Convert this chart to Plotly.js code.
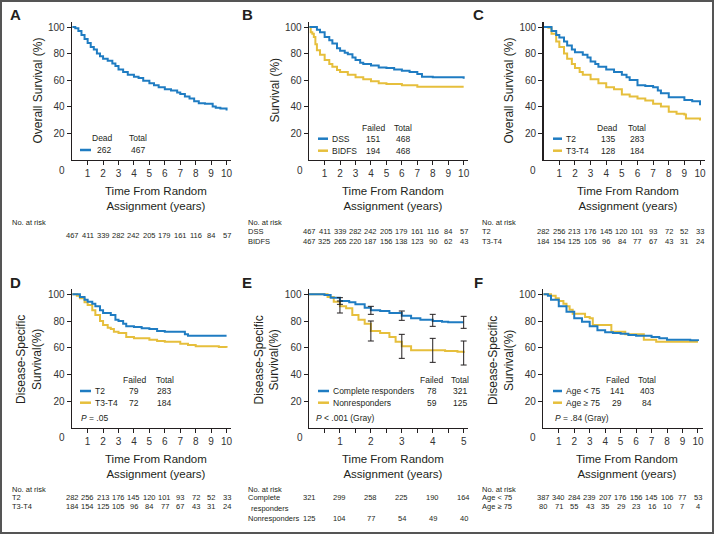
<!DOCTYPE html>
<html><head><meta charset="utf-8">
<script src="https://cdn.plot.ly/plotly-3.0.1.min.js"></script>
<style>html,body{margin:0;padding:0;background:#fff}#c{width:714px;height:534px}</style>
</head><body><div id="c"></div>
<script>
// ---------------- DATA ----------------
const yearsTen = [0,1,2,3,4,5,6,7,8,9,10];
const yearsFive = [0,1,2,3,4,5];
const tickTen = [1,2,3,4,5,6,7,8,9,10];

// Panel A - overall survival
const A_t = [0,0.2,0.4,0.6,0.8,1.0,1.2,1.4,1.6,1.8,2.0,2.3,2.6,2.8,3.0,3.3,3.6,4.0,4.3,4.6,5.0,5.3,5.6,6.0,6.4,6.8,7.0,7.3,7.6,7.9,8.2,8.6,8.9,9.1,9.3,9.6,10.0];
const A_s = [100,99,97,94,91,88,85,83,80,78,76,74.5,72.5,70.5,68,66,64,62.5,61.5,59.5,57.5,56,54.5,53,52,50.5,49.5,47.5,46,44,42.5,42,42,40,39,38.5,37];
const A_risk = [467,411,339,282,242,205,179,161,116,84,57];

// Panel B - DSS / BIDFS
const B_dss_t = [0,0.3,0.5,0.7,1.0,1.3,1.5,1.8,2.0,2.3,2.5,2.8,3.0,3.3,3.5,4.0,4.5,5.0,5.5,6.0,6.5,7.0,7.3,8.0,9.0,9.6,10.0];
const B_dss_s = [100,100,98,96,92.5,90,87.5,84,82,80.5,79.5,77,75,73,72,71,69.5,69,68,67,66,64.5,62.5,62,62,62,61];
const B_bid_t = [0,0.1,0.2,0.3,0.4,0.5,0.7,1.0,1.3,1.5,1.8,2.0,2.5,3.0,3.5,4.0,4.5,5.0,6.0,7.0,8.0,10.0];
const B_bid_s = [100,96,95,92.5,87,82.5,79,75,72,70,67.5,66,64,62,60.5,59,57.5,57,56,55,55,55];
const B_risk_dss = [467,411,339,282,242,205,179,161,116,84,57];
const B_risk_bid = [467,325,265,220,187,156,138,123,90,62,43];

// Panel C - OS by T stage
const C_t2_t = [0,0.3,0.5,0.8,1.0,1.3,1.5,1.8,2.0,2.5,2.8,3.0,3.3,3.5,4.0,4.5,5.0,5.3,5.5,6.0,6.5,7.0,7.3,7.5,8.0,8.5,8.9,9.0,9.5,10.0];
const C_t2_s = [100,100,97,94,92,89,86,83,81,79,77,74,72,70,68,66,64,62,60,56,55.5,54.5,52,50,47,47,47,45,44,41];
const C_t34_t = [0,0.3,0.5,0.8,1.0,1.3,1.5,1.8,2.0,2.3,2.5,3.0,3.5,4.0,4.5,5.0,5.5,6.0,6.5,7.0,7.5,8.0,8.5,9.0,9.1,9.5,10.0];
const C_t34_s = [100,99.5,95,89,85,80,76,72,69,66,64,60.5,57.5,54.5,53,49,47.5,46,44.5,42,40,36,34.5,34,31,31,29.5];
const C_risk_t2 = [282,256,213,176,145,120,101,93,72,52,33];
const C_risk_t34 = [184,154,125,105,96,84,77,67,43,31,24];

// Panel D - DSS by T stage
const D_t2_t = [0,0.3,0.5,0.8,1.0,1.3,1.5,1.8,2.0,2.5,2.8,3.0,3.3,3.5,4.0,4.5,5.0,5.5,6.0,7.0,7.3,7.5,8.0,10.0];
const D_t2_s = [100,100,98,96,94.5,93,91,88,86,84.5,81,80,78,76,75.5,74.5,74,72.5,72,72,70,69,69,69];
const D_t34_t = [0,0.3,0.5,0.8,1.0,1.3,1.5,1.8,2.0,2.3,2.5,2.7,3.0,3.5,4.0,4.5,5.0,5.5,6.0,7.0,7.5,8.0,9.0,9.5,10.0];
const D_t34_s = [100,99,97,94,92,88,84.5,80,77,75,74,72,71,68,67,67,66,65,64.5,63,62,61,61,60.5,60];
const D_risk_t2 = [282,256,213,176,145,120,101,93,72,52,33];
const D_risk_t34 = [184,154,125,105,96,84,77,67,43,31,24];

// Panel E - DSS by response
const E_cr_t = [0,0.4,0.5,0.7,1.0,1.3,1.5,1.8,2.0,2.3,2.6,3.0,3.3,3.6,4.0,4.3,4.5,5.0];
const E_cr_s = [100,100,99.5,97.5,95,94,92.5,90,88,87.5,86,84,82,81,80,79.5,79,79];
const E_nr_t = [0,0.4,0.6,0.8,1.0,1.2,1.4,1.6,1.8,2.0,2.3,2.6,2.8,3.0,3.3,4.0,4.4,4.8,5.0];
const E_nr_s = [100,100,98,94.5,91,89.5,84.5,81,78,72.5,71,68,64.5,61,58,58,57.5,57,56];
const E_err_t = [1,2,3,4,5];
const E_cr_mid = [95,88,84,80.5,79];
const E_cr_err = [2.5,3,3.5,4.5,4.5];
const E_nr_mid = [90.5,72.5,61,58,56];
const E_nr_err = [4.5,7.5,9,9,9];
const E_risk_cr = [321,299,258,225,190,164];
const E_risk_nr = [125,104,77,54,49,40];

// Panel F - DSS by age
const F_lt_t = [0,0.3,0.5,1.0,1.5,2.0,2.5,3.0,3.5,4.0,4.5,5.0,5.5,6.0,7.0,7.5,8.0,9.0,9.5,10.0];
const F_lt_s = [100,99,96,91,87,82,79.5,76,73,71.5,71,70.5,69.5,69,68,67,66,66,65.5,65];
const F_ge_t = [0,0.5,0.8,1.0,1.3,1.5,1.7,1.9,2.7,3.0,3.2,4.4,5.3,6.5,7.3,10.0];
const F_ge_s = [100,99,97,95,93,91,88.5,85.5,83,82,77,72,70,66,64.5,64.5];
const F_risk_lt = [387,340,284,239,207,176,156,145,106,77,53];
const F_risk_ge = [80,71,55,43,35,29,23,16,10,7,4];

// ---------------- STYLE / LAYOUT ----------------
const W = 714, H = 534;
const BLUE = '#1f7cc2', GOLD = '#e6bf3c', INK = '#231f20';
const FONT = 'Liberation Sans, Arial, Helvetica, sans-serif';
const NARROW = 'Liberation Sans Narrow, Arial Narrow, Liberation Sans, Arial, sans-serif';
const X = p => p / W, Y = p => 1 - p / H;

const panels = [
  {k:'', xd:[72.2,231.2], yd:[21.7,159.5], xr:[0,10.3]},
  {k:'2', xd:[309.2,468.3], yd:[21.7,159.5], xr:[0,10.3]},
  {k:'3', xd:[543.7,704.7], yd:[21.7,159.5], xr:[0,10.3]},
  {k:'4', xd:[72.2,231.2], yd:[289,427.7], xr:[0,10.3]},
  {k:'5', xd:[309.0,468.3], yd:[289,427.7], xr:[0,5.15]},
  {k:'6', xd:[543.3,702.6], yd:[289,427.7], xr:[0,10.3]}
];

const layout = {
  width: W, height: H, margin:{l:0,r:0,t:0,b:0},
  paper_bgcolor:'#fff', plot_bgcolor:'rgba(0,0,0,0)',
  showlegend:false, font:{family:FONT, color:INK},
  annotations:[], shapes:[]
};

panels.forEach((p,i) => {
  const xa = {
    domain:[X(p.xd[0]), X(p.xd[1])], range:p.xr, anchor:'y'+p.k,
    showline:true, linecolor:INK, linewidth:1.5, ticks:'outside', ticklen:4, tickwidth:1, tickcolor:INK,
    showgrid:false, zeroline:false, tickfont:{size:10, color:'#333'}, fixedrange:true
  };
  if (i === 4) {
    xa.tickvals = [0.5,1,1.5,2,2.5,3,3.5,4,4.5,5];
    xa.ticktext = ['','1','','2','','3','','4','','5'];
  } else {
    xa.tickvals = tickTen;
  }
  const ya = {
    domain:[Y(p.yd[1]), Y(p.yd[0])], range:[0,104], anchor:'x'+p.k,
    showline:true, linecolor:INK, linewidth:1.5, ticks:'outside', ticklen:4, tickwidth:1, tickcolor:INK,
    showgrid:false, zeroline:false, tickvals:[20,40,60,80,100], tickfont:{size:10, color:'#333'}, fixedrange:true
  };
  layout['xaxis'+p.k] = xa;
  layout['yaxis'+p.k] = ya;
});

function ann(text, x, y, o) {
  layout.annotations.push(Object.assign({
    text:text, x:x, y:y, xref:'paper', yref:'paper', showarrow:false,
    xanchor:'center', yanchor:'middle', font:{size:8.5, color:INK, family:FONT}
  }, o||{}));
}
function lineSample(x0, x1, y, color) {
  layout.shapes.push({type:'line', xref:'paper', yref:'paper', x0:X(x0), x1:X(x1), y0:Y(y), y1:Y(y),
    line:{color:color, width:2.5}});
}

// panel letters
[['A',15,15],['B',247,15],['C',479,15],['D',15,282],['E',247,282],['F',479,282]].forEach(l =>
  ann('<b>'+l[0]+'</b>', X(l[1]), Y(l[2]), {font:{size:15, color:INK, family:FONT}}));

// origin "0" labels
[[62,170],[300,170],[533,170],[62,437],[300,437],[533,437]].forEach(o =>
  ann('0', X(o[0]), Y(o[1]), {font:{size:10, color:'#333', family:FONT}}));

// y-axis titles
const yt = {size:12, color:INK, family:FONT};
ann('Overall Survival (%)', X(38), Y(90.6), {textangle:-90, font:yt});
ann('Survival (%)', X(275), Y(90.6), {textangle:-90, font:yt});
ann('Overall Survival (%)', X(509), Y(90.6), {textangle:-90, font:yt});
ann('Disease-Specific<br>Survival(%)', X(29), Y(360), {textangle:-90, font:yt});
ann('Disease-Specific<br>Survival(%)', X(266.5), Y(360), {textangle:-90, font:yt});
ann('Disease-Specific<br>Survival(%)', X(501), Y(360), {textangle:-90, font:yt});

// x-axis titles
const xtitle = 'Time From Random<br>Assignment (years)';
const xtf = {size:11.5, color:INK, family:FONT};
panels.forEach((p,i) => {
  ann(xtitle, i === 4 ? 2.7 : 5.4, Y(i < 3 ? 198 : 466), {xref:'x'+p.k, font:xtf});
});

// legends tables
const lf = {size:8.5, color:INK, family:FONT};
// A
ann('Dead', X(103), Y(138), {font:lf}); ann('Total', X(137.5), Y(138), {font:lf});
lineSample(80, 91, 150, BLUE); ann('262', X(103.5), Y(150), {font:lf}); ann('467', X(137.5), Y(150), {font:lf});
// B
ann('Failed', X(373), Y(128), {font:lf}); ann('Total', X(403), Y(128), {font:lf});
lineSample(318, 328, 138.7, BLUE); ann('DSS', X(330), Y(138.7), {font:lf, xanchor:'left'});
ann('151', X(372.7), Y(138.7), {font:lf}); ann('468', X(402.7), Y(138.7), {font:lf});
lineSample(318, 328, 150.7, GOLD); ann('BIDFS', X(330), Y(150.7), {font:lf, xanchor:'left'});
ann('194', X(372.7), Y(150.7), {font:lf}); ann('468', X(402.7), Y(150.7), {font:lf});
// C
ann('Dead', X(607), Y(128), {font:lf}); ann('Total', X(637), Y(128), {font:lf});
lineSample(553, 562, 138.7, BLUE); ann('T2', X(564), Y(138.7), {font:lf, xanchor:'left'});
ann('135', X(608), Y(138.7), {font:lf}); ann('283', X(637), Y(138.7), {font:lf});
lineSample(553, 562, 150.7, GOLD); ann('T3-T4', X(564), Y(150.7), {font:lf, xanchor:'left'});
ann('128', X(608), Y(150.7), {font:lf}); ann('184', X(637), Y(150.7), {font:lf});
// D
ann('Failed', X(134.7), Y(380), {font:lf}); ann('Total', X(164.7), Y(380), {font:lf});
lineSample(80, 91, 391, BLUE); ann('T2', X(93), Y(391), {font:lf, xanchor:'left'});
ann('79', X(134), Y(391), {font:lf}); ann('283', X(164), Y(391), {font:lf});
lineSample(80, 91, 402.7, GOLD); ann('T3-T4', X(93), Y(402.7), {font:lf, xanchor:'left'});
ann('72', X(134), Y(402.7), {font:lf}); ann('184', X(164), Y(402.7), {font:lf});
ann('<i>P</i> = .05', X(79), Y(417.7), {font:lf, xanchor:'left'});
// E
ann('Failed', X(431), Y(380), {font:lf}); ann('Total', X(460), Y(380), {font:lf});
lineSample(318, 329, 391, BLUE); ann('Complete responders', X(330.5), Y(391), {font:lf, xanchor:'left'});
ann('78', X(431.7), Y(391), {font:lf}); ann('321', X(460), Y(391), {font:lf});
lineSample(318, 329, 402.7, GOLD); ann('Nonresponders', X(330.5), Y(402.7), {font:lf, xanchor:'left'});
ann('59', X(431.7), Y(402.7), {font:lf}); ann('125', X(460), Y(402.7), {font:lf});
ann('<i>P</i> < .001 (Gray)', X(314), Y(417.7), {font:lf, xanchor:'left'});
// F
ann('Failed', X(617.5), Y(380), {font:lf}); ann('Total', X(647), Y(380), {font:lf});
lineSample(553, 562, 391, BLUE); ann('Age < 75', X(564), Y(391), {font:lf, xanchor:'left'});
ann('141', X(617), Y(391), {font:lf}); ann('403', X(647), Y(391), {font:lf});
lineSample(553, 562, 402.7, GOLD); ann('Age ≥ 75', X(564), Y(402.7), {font:lf, xanchor:'left'});
ann('29', X(617), Y(402.7), {font:lf}); ann('84', X(647), Y(402.7), {font:lf});
ann('<i>P</i> = .84 (Gray)', X(553), Y(417.7), {font:lf, xanchor:'left'});

// risk tables
const rf = {size:7.5, color:INK, family:NARROW};
function riskLabel(t, x, y) { ann(t, X(x), Y(y), {font:rf, xanchor:'left'}); }
function riskRow(vals, times, axis, y) {
  vals.forEach((v,i) => ann(String(v), times[i], Y(y), {xref:axis, font:rf}));
}
riskLabel('No. at risk', 9.5, 222);
riskRow(A_risk, yearsTen, 'x', 236);
riskLabel('No. at risk', 245.7, 222); riskLabel('DSS', 245.7, 232); riskLabel('BIDFS', 245.7, 241);
riskRow(B_risk_dss, yearsTen, 'x2', 232); riskRow(B_risk_bid, yearsTen, 'x2', 241);
riskLabel('No. at risk', 480, 222); riskLabel('T2', 480, 232); riskLabel('T3-T4', 480, 241);
riskRow(C_risk_t2, yearsTen, 'x3', 232); riskRow(C_risk_t34, yearsTen, 'x3', 241);
riskLabel('No. at risk', 9.5, 489); riskLabel('T2', 9.5, 498); riskLabel('T3-T4', 9.5, 506);
riskRow(D_risk_t2, yearsTen, 'x4', 498); riskRow(D_risk_t34, yearsTen, 'x4', 506);
riskLabel('No. at risk', 245.7, 489); riskLabel('Complete', 245.7, 498); riskLabel('responders', 248.5, 508.5);
riskLabel('Nonresponders', 245.7, 518);
riskRow(E_risk_cr, yearsFive, 'x5', 498); riskRow(E_risk_nr, yearsFive, 'x5', 518);
riskLabel('No. at risk', 480, 489); riskLabel('Age < 75', 480, 498); riskLabel('Age ≥ 75', 480, 506);
riskRow(F_risk_lt, yearsTen, 'x6', 498); riskRow(F_risk_ge, yearsTen, 'x6', 506);

// frame
layout.shapes.push({type:'rect', xref:'paper', yref:'paper', x0:X(1), x1:X(713), y0:Y(1), y1:Y(533),
  line:{color:'#555', width:2}, fillcolor:'rgba(0,0,0,0)'});

// ---------------- TRACES ----------------
function km(t, s, color, k) {
  return {type:'scatter', mode:'lines', x:t, y:s, xaxis:'x'+k, yaxis:'y'+k,
    line:{color:color, width:2, shape:'hv'}, hoverinfo:'skip', cliponaxis:false};
}
function errs(t, m, e, k) {
  return {type:'scatter', mode:'markers', x:t, y:m, xaxis:'x'+k, yaxis:'y'+k,
    marker:{size:1, color:INK, opacity:0},
    error_y:{type:'data', array:e, visible:true, color:INK, thickness:1, width:3}, hoverinfo:'skip'};
}
const traces = [
  km(A_t, A_s, BLUE, ''),
  km(B_bid_t, B_bid_s, GOLD, '2'), km(B_dss_t, B_dss_s, BLUE, '2'),
  km(C_t34_t, C_t34_s, GOLD, '3'), km(C_t2_t, C_t2_s, BLUE, '3'),
  km(D_t34_t, D_t34_s, GOLD, '4'), km(D_t2_t, D_t2_s, BLUE, '4'),
  km(E_nr_t, E_nr_s, GOLD, '5'), km(E_cr_t, E_cr_s, BLUE, '5'),
  errs(E_err_t, E_cr_mid, E_cr_err, '5'), errs(E_err_t, E_nr_mid, E_nr_err, '5'),
  km(F_ge_t, F_ge_s, GOLD, '6'), km(F_lt_t, F_lt_s, BLUE, '6')
];

Plotly.newPlot('c', traces, layout, {displayModeBar:false, staticPlot:true});
</script></body></html>
